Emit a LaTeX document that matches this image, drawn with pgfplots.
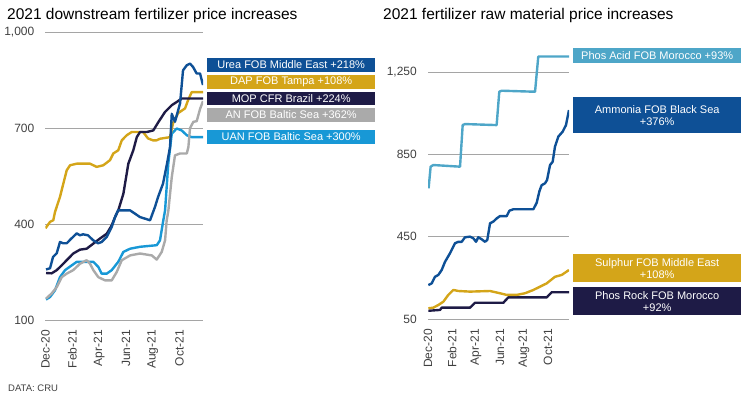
\documentclass[border=0pt]{standalone}
\usepackage{pgfplots}
\pgfplotsset{compat=1.18}
\usepackage{fontspec}
\setmainfont{Liberation Sans}
\definecolor{urea}{RGB}{14,80,150}
\definecolor{dap}{RGB}{212,165,25}
\definecolor{mop}{RGB}{30,27,70}
\definecolor{an}{RGB}{170,170,170}
\definecolor{uan}{RGB}{24,152,214}
\definecolor{acid}{RGB}{78,166,200}
\definecolor{gridc}{RGB}{165,165,165}
\definecolor{tickc}{RGB}{64,64,64}
\pgfplotsset{
  fert/.style={
    scale only axis,
    axis line style={draw=none},
    tick style={draw=none},
    ymajorgrids,
    grid style={gridc, line width=0.9pt},
    xmin=0, xmax=11.75,
    xtick={0,2,4,6,8,10},
    xticklabels={Dec-20,Feb-21,Apr-21,Jun-21,Aug-21,Oct-21},
    xticklabel style={yshift=-10pt, rotate=90, anchor=east, inner sep=0pt, font=\fontsize{12}{12}\selectfont, text=tickc},
    yticklabel style={font=\fontsize{12}{12}\selectfont, text=tickc, inner sep=0pt, xshift=-11pt, anchor=east},
    every axis plot/.append style={line width=2.4pt, line join=round, mark=none},
  }
}
\begin{document}
\begin{tikzpicture}
\path[use as bounding box] (0,0) rectangle (742pt,396pt);
% titles
\node[anchor=base west, inner sep=0pt, font=\fontsize{15.5}{18}\selectfont] at (7pt,376pt) {2021 downstream fertilizer price increases};
\node[anchor=base west, inner sep=0pt, font=\fontsize{15.5}{18}\selectfont] at (383pt,376pt) {2021 fertilizer raw material price increases};
\node[anchor=base west, inner sep=0pt, font=\fontsize{9.5}{11}\selectfont, text=tickc] at (8pt,4pt) {DATA: CRU};

\begin{axis}[fert, at={(45.5pt,76pt)}, anchor=south west, width=157.5pt, height=287.7pt,
  ymin=100, ymax=1000, ytick={100,400,700,1000}, yticklabels={100,400,700,{1,000}}]
% UAN
\addplot[uan] coordinates {(0.04,164)(0.34,172)(0.71,193)(1.08,234)(1.46,256)(1.96,271)(2.33,282)(3.57,282)(3.94,266)(4.19,245)(4.57,245)(4.94,256)(5.43,282)(5.81,313)(6.31,323)(7.05,329)(8.3,334)(8.54,349)(8.79,412)(8.92,443)(9.16,589)(9.42,683)(9.79,699)(10.16,693)(10.54,678)(10.91,672)(11.75,672)};
% AN
\addplot[an] coordinates {(0.04,167)(0.46,183)(0.84,203)(1.21,234)(1.58,245)(2.07,256)(2.57,276)(3.07,287)(3.32,276)(3.57,256)(3.94,234)(4.44,224)(4.94,224)(5.31,250)(5.69,287)(6.31,302)(7.05,308)(7.93,302)(8.3,289)(8.67,313)(8.92,349)(9.04,412)(9.16,440)(9.42,547)(9.66,615)(10.04,621)(10.54,621)(10.66,641)(10.78,700)(11.03,720)(11.28,722)(11.53,760)(11.75,785)};
% DAP
\addplot[dap] coordinates {(0,387)(0.34,407)(0.58,412)(0.71,438)(1.08,485)(1.58,568)(1.83,584)(2.33,589)(3.32,589)(3.82,579)(4.31,584)(4.81,600)(5.06,621)(5.43,631)(5.69,662)(6.06,678)(6.43,688)(7.28,688)(7.65,668)(8.02,662)(8.28,662)(8.54,667)(9.29,672)(9.51,715)(9.89,747)(10.41,762)(10.63,787)(10.91,813)(11.75,813)};
% MOP
\addplot[mop] coordinates {(0.04,247)(0.46,246)(0.84,256)(1.21,271)(1.58,287)(2.07,308)(2.57,320)(3.07,323)(3.57,339)(4.07,355)(4.57,370)(4.94,396)(5.19,422)(5.43,443)(5.81,495)(6.18,589)(6.55,631)(6.81,672)(7.05,688)(7.55,688)(8.04,693)(8.42,719)(8.92,751)(9.42,772)(9.79,782)(10.16,793)(11.75,793)};
% Urea
\addplot[urea] coordinates {(0.04,258)(0.34,262)(0.56,297)(0.84,309)(1.08,344)(1.31,340)(1.58,340)(1.96,356)(2.33,371)(2.57,365)(2.8,368)(3.17,365)(3.54,350)(3.92,340)(4.19,344)(4.57,360)(4.94,391)(5.19,422)(5.41,443)(5.93,443)(6.31,443)(7.05,422)(7.8,412)(8.17,454)(8.4,485)(8.77,527)(9.07,590)(9.29,641)(9.42,745)(9.66,720)(10.04,778)(10.26,881)(10.54,897)(10.78,902)(11.0,892)(11.28,871)(11.53,871)(11.75,835)};
\end{axis}

\begin{axis}[fert, at={(428pt,77pt)}, anchor=south west, width=141pt, height=267.6pt,
  ymin=50, ymax=1350, ytick={50,450,850,1250}, yticklabels={50,450,850,{1,250}}]
% Phos Rock
\addplot[mop] coordinates {(0.03,90)(1.0,94)(1.14,105)(3.5,105)(3.92,129)(6.28,129)(6.69,155)(9.89,155)(10.31,180)(11.75,180)};
% Sulphur
\addplot[dap] coordinates {(0.03,102)(0.44,105)(0.86,118)(1.28,134)(1.69,167)(2.11,191)(2.53,186)(3.5,183)(5.17,186)(6.0,175)(6.56,167)(7.39,167)(8.08,175)(8.78,191)(9.33,207)(9.89,223)(10.58,255)(11.14,264)(11.75,288)};
% Phos Acid
\addplot[acid] coordinates {(0.05,685)(0.22,790)(0.44,798)(2.67,790)(2.89,992)(3.08,997)(5.72,992)(5.94,1154)(6.14,1159)(8.92,1154)(9.19,1325)(11.75,1325)};
% Ammonia
\addplot[urea] coordinates {(0.03,215)(0.31,223)(0.58,255)(0.86,264)(1.14,288)(1.42,328)(1.83,369)(2.25,418)(2.53,425)(2.81,425)(3.08,447)(3.5,450)(3.78,442)(4.0,425)(4.19,447)(4.48,437)(4.75,425)(4.94,434)(5.17,515)(5.44,523)(5.73,539)(6.0,550)(6.56,550)(6.78,576)(7.11,583)(8.78,583)(9.06,615)(9.28,670)(9.47,700)(9.75,709)(9.92,725)(10.17,798)(10.39,814)(10.58,887)(10.86,936)(11.22,960)(11.5,992)(11.75,1065)};
\end{axis}

% label boxes
\tikzset{lab/.style={anchor=north west, inner sep=0pt, minimum width=168pt, text=white, align=center, font=\fontsize{11}{12}\selectfont}}
\node[lab, fill=urea, minimum height=13.5pt] at (207pt,338pt) {Urea FOB Middle East +218\%};
\node[lab, fill=dap, minimum height=13.5pt] at (207pt,321pt) {DAP FOB Tampa +108\%};
\node[lab, fill=mop, minimum height=13.5pt] at (207pt,304.5pt) {MOP CFR Brazil +224\%};
\node[lab, fill=an, minimum height=13.5pt] at (207pt,288pt) {AN FOB Baltic Sea +362\%};
\node[lab, fill=uan, minimum height=13.5pt] at (207pt,266pt) {UAN FOB Baltic Sea +300\%};

\node[lab, fill=acid, minimum height=15pt] at (573pt,348pt) {Phos Acid FOB Morocco +93\%};
\node[lab, fill=urea, minimum height=36pt] at (573pt,299pt) {Ammonia FOB Black Sea\\+376\%};
\node[lab, fill=dap, minimum height=28pt] at (573pt,142pt) {Sulphur FOB Middle East\\+108\%};
\node[lab, fill=mop, minimum height=28pt] at (573pt,109pt) {Phos Rock FOB Morocco\\+92\%};
\end{tikzpicture}
\end{document}
